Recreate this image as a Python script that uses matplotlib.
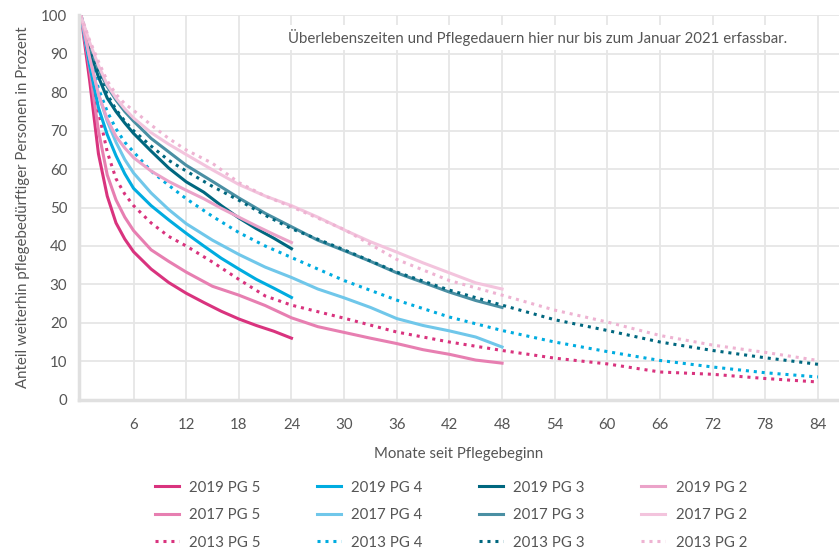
import matplotlib
matplotlib.use("Agg")
import matplotlib.pyplot as plt

plt.rcParams['font.family'] = ['Lato', 'DejaVu Sans']

# ---------------- data ----------------
months_2019 = [0, 1, 2, 3, 4, 5, 6, 8, 10, 12, 14, 16, 18, 20, 22, 24]
months_2017 = [0, 1, 2, 3, 4, 5, 6, 8, 10, 12, 15, 18, 21, 24, 27, 30, 33, 36, 39, 42, 45, 48]
months_2013 = [0, 1, 2, 3, 4, 5, 6, 8, 10, 12, 15, 18, 21, 24, 30, 36, 42, 48, 54, 60, 66, 72, 78, 84]

pg5_2019 = [100, 83, 64, 53, 46, 41.8, 38.5, 34, 30.5, 27.7, 25.3, 23, 21, 19.3, 17.8, 16.0]
pg4_2019 = [100, 87, 76, 69, 63.5, 58.8, 55, 50.5, 46.8, 43.3, 40, 36.8, 34, 31.3, 29, 26.6]
pg3_2019 = [100, 91, 84, 78.5, 75, 72, 69.3, 64.7, 60.3, 56.7, 54, 50.5, 47.3, 44.5, 42, 39.3]
pg2_2019 = [100, 89, 79.5, 73, 68.5, 65.5, 63, 59.5, 56.8, 54.5, 52.3, 49.8, 47.5, 45.2, 43, 40.9]

pg5_2017 = [100, 86, 70, 58.5, 52, 47.5, 44, 39, 36, 33.2, 29.5, 27.2, 24.5, 21.3, 19, 17.5, 16, 14.6, 13, 11.8, 10.3, 9.5]
pg4_2017 = [100, 89, 79.5, 72.5, 67, 62.5, 59, 53.8, 49.5, 45.8, 41.5, 37.8, 34.5, 31.8, 28.8, 26.5, 24, 21.1, 19.3, 17.9, 16.3, 13.7]
pg3_2017 = [100, 92, 86, 81.5, 78, 75, 72.5, 68, 64.5, 61, 56.8, 52.5, 48.5, 45, 41.5, 38.8, 36, 33, 30.5, 28, 25.8, 24.0]
pg2_2017 = [100, 93, 87, 82, 78.5, 75.7, 73.3, 69.5, 66.5, 63.8, 59.8, 56, 53, 50.5, 47.5, 44.2, 41.1, 38.4, 35.6, 33, 30.4, 28.8]

pg5_2013 = [100, 88, 75, 64.5, 57.5, 53.5, 50.5, 46, 42.5, 40, 35.8, 31.3, 27, 24.6, 21.2, 17.6, 15, 12.8, 10.8, 9.3, 7.2, 6.6, 5.5, 4.6]
pg4_2013 = [100, 90, 81, 75, 70.5, 67, 64.5, 59.5, 55.8, 52.3, 47.7, 43.5, 40, 37, 31, 25.9, 21.5, 18.0, 15, 12.5, 10.2, 8.5, 7, 5.9]
pg3_2013 = [100, 92, 85, 79.5, 75.5, 72.5, 70, 66, 62.3, 59.5, 55.5, 51.9, 48, 44.5, 39, 33.2, 28.5, 24.6, 20.8, 18, 15, 12.8, 10.9, 9.2]
pg2_2013 = [100, 93.5, 88, 83, 79.5, 77, 75.3, 71.5, 68, 65, 61.5, 56.5, 53, 50.2, 44.3, 36.5, 31, 27.2, 23.3, 20.2, 16.7, 14.2, 12.3, 10.2]

x_ticks = [6, 12, 18, 24, 30, 36, 42, 48, 54, 60, 66, 72, 78, 84]
y_ticks = [0, 10, 20, 30, 40, 50, 60, 70, 80, 90, 100]

# ---------------- styling ----------------
c5, c5b = '#d9337e', '#e77fb1'
c4, c4b = '#00ace0', '#70c7ea'
c3, c3b = '#00677f', '#4a8fa3'
c2, c2b = '#eba3c9', '#f3c4dd'
c2d = '#eeb3d2'

series = [
    ('2019 PG 5', months_2019, pg5_2019, c5, '-'),
    ('2017 PG 5', months_2017, pg5_2017, c5b, '-'),
    ('2013 PG 5', months_2013, pg5_2013, c5, ':'),
    ('2019 PG 4', months_2019, pg4_2019, c4, '-'),
    ('2017 PG 4', months_2017, pg4_2017, c4b, '-'),
    ('2013 PG 4', months_2013, pg4_2013, c4, ':'),
    ('2019 PG 3', months_2019, pg3_2019, c3, '-'),
    ('2017 PG 3', months_2017, pg3_2017, c3b, '-'),
    ('2013 PG 3', months_2013, pg3_2013, c3, ':'),
    ('2019 PG 2', months_2019, pg2_2019, c2, '-'),
    ('2017 PG 2', months_2017, pg2_2017, c2b, '-'),
    ('2013 PG 2', months_2013, pg2_2013, c2d, ':'),
]

fs = 10.8
fig = plt.figure(figsize=(8.39, 5.52), dpi=100)
ax = fig.add_axes([0.0936, 0.276, 0.9064, 0.696])

handles = []
for label, xs, ys, col, ls in series:
    if ls == ':':
        h, = ax.plot(xs, ys, color=col, lw=2.2, linestyle=(0, (1, 1.6)),
                     dash_capstyle='butt', label=label)
    else:
        h, = ax.plot(xs, ys, color=col, lw=2.2, linestyle='-', label=label,
                     solid_joinstyle='round')
    handles.append(h)

ax.set_xlim(-0.27, 86.4)
ax.set_ylim(0, 100)
ax.set_xticks(x_ticks)
ax.set_yticks(y_ticks)
ax.grid(True, color='#e6e6e6', lw=1.3)
ax.set_axisbelow(True)
for s in ['top', 'right']:
    ax.spines[s].set_visible(False)
for s in ['left', 'bottom']:
    ax.spines[s].set_color('#e0e0e0')
    ax.spines[s].set_linewidth(2.5)
ax.tick_params(length=0, labelsize=fs, labelcolor='#555555')
ax.tick_params(axis='x', pad=13)
ax.tick_params(axis='y', pad=8)

ax.set_xlabel('Monate seit Pflegebeginn', fontsize=fs, color='#555555', labelpad=11)
ax.set_ylabel('Anteil weiterhin pflegebedürftiger Personen in Prozent', fontsize=fs,
              color='#555555', labelpad=8)

ax.text(52.0, 94.3, 'Überlebenszeiten und Pflegedauern hier nur bis zum Januar 2021 erfassbar.',
        ha='center', va='center', fontsize=fs, color='#555555',
        bbox=dict(facecolor='white', edgecolor='none', pad=3))

fig.legend(handles=handles, ncol=4, loc='upper left', bbox_to_anchor=(0.177, 0.140),
           frameon=False, fontsize=fs, handlelength=1.6, handletextpad=0.7,
           columnspacing=3.75, labelcolor='#555555', borderaxespad=0, labelspacing=0.9)

fig.savefig('out.png', dpi=100)
